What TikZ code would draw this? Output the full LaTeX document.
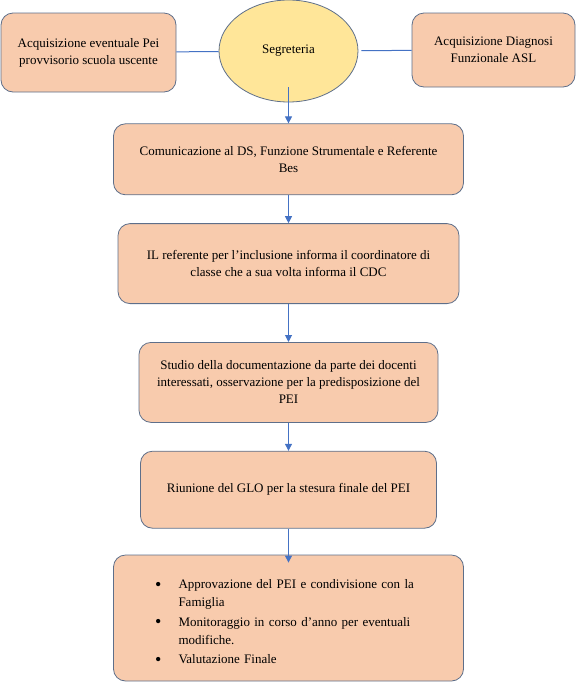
\documentclass[tikz,border=0pt]{standalone}
\usepackage{fontspec}
\setmainfont{Liberation Serif}
\usepackage{enumitem}
\usetikzlibrary{arrows.meta, positioning, shapes.geometric}

\definecolor{peach}{HTML}{F8CBAD}
\definecolor{sand}{HTML}{FFE699}
\definecolor{edge}{HTML}{5E6F8A}
\definecolor{link}{HTML}{4472C4}

\begin{document}
\begin{tikzpicture}[
        box/.style={draw=edge, line width=0.8pt, rounded corners=12pt, fill=peach, align=center, inner sep=0pt, font=\fontsize{13}{17}\selectfont},
        oval/.style={draw=edge, line width=0.8pt, ellipse, fill=sand, inner sep=0pt, minimum width=139pt, minimum height=102pt, font=\fontsize{13}{17}\selectfont},
        >={Triangle[length=7pt,width=7pt]},
        node distance=28pt
    ]
        \useasboundingbox (0,0) rectangle (580pt,-686pt);

        % Nodes
        \node[oval] (segreteria) at (288.5pt,-51pt) {Segreteria};
        \node[box, minimum width=175pt, minimum height=79pt] (acqpei) at (88.5pt,-52.5pt) {Acquisizione eventuale Pei\\provvisorio scuola uscente};
        \node[box, minimum width=163pt, minimum height=74pt] (acqdiagnosi) at (493.5pt,-50pt) {Acquisizione Diagnosi\\Funzionale ASL};
        \node[box, minimum width=350pt, minimum height=71pt, below=21pt of segreteria.south] (comunicazione) {Comunicazione al DS, Funzione Strumentale e Referente\\Bes};
        \node[box, minimum width=341pt, minimum height=80pt, below=of comunicazione] (referente) {IL referente per l'inclusione informa il coordinatore di\\classe che a sua volta informa il CDC};
        \node[box, minimum width=299pt, minimum height=80pt, below=38pt of referente] (studio) {Studio della documentazione da parte dei docenti\\interessati, osservazione per la predisposizione del\\PEI};
        \node[box, minimum width=296pt, minimum height=77pt, below=of studio] (riunione) {Riunione del GLO per la stesura finale del PEI};
        \node[box, minimum width=350pt, minimum height=126pt, text width=290pt, align=left, below=26pt of riunione, font=\fontsize{13}{18}\selectfont] (approvazione) {%
            \begin{itemize}[label={\raisebox{-1.8pt}{\fontsize{18}{17}\selectfont\textbullet}}, leftmargin=35pt, labelsep=17pt, itemsep=1.5pt, topsep=0pt, parsep=0pt, partopsep=0pt]
                \item Approvazione del PEI e condivisione con la\\Famiglia
                \item Monitoraggio in corso d'anno per eventuali\\modifiche.
                \item Valutazione Finale
            \end{itemize}\vspace*{-5pt}};

        % Connectors
        \draw[link, line width=1pt] (acqpei) -- (segreteria);
        \draw[link, line width=1pt, shorten <=3pt] (segreteria) -- (acqdiagnosi);
        \draw[link, line width=1pt, ->] ([yshift=15pt]segreteria.south) -- (comunicazione);
        \draw[link, line width=1pt, ->] (comunicazione) -- (referente);
        \draw[link, line width=1pt, ->] (referente) -- (studio);
        \draw[link, line width=1pt, ->] (studio) -- (riunione);
        \draw[link, line width=1pt, ->, shorten >=-8pt] (riunione) -- (approvazione);
    \end{tikzpicture}
\end{document}
